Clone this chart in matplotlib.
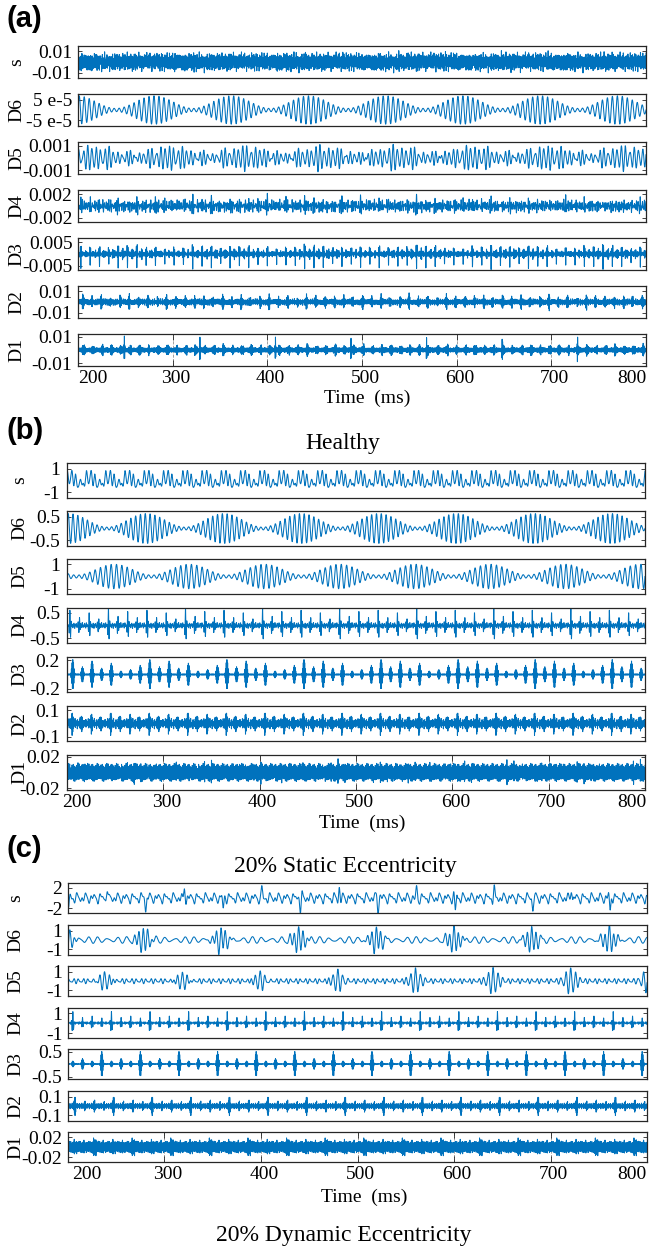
import numpy as np
import matplotlib.pyplot as plt
from matplotlib.transforms import ScaledTranslation

plt.rcParams['font.family'] = ['Liberation Serif', 'DejaVu Serif']

# rows of every panel, top to bottom
rows = ['s', 'D6', 'D5', 'D4', 'D3', 'D2', 'D1']
xticks = [200, 300, 400, 500, 600, 700, 800]
titles = ['Healthy', '20% Static Eccentricity', '20% Dynamic Eccentricity']
panel_tags = ['(a)', '(b)', '(c)']

# signal description (time in ms, freq in cycles/ms)
# tones: (freq, amplitude, phase)
# beat: (carrier, beat period, time of envelope minimum, max amp, min amp)
# bursts: (first time, period, heights, width, carrier)

# ---- (a) healthy
a_ylim = [0.0147, 7.9e-5, 0.0013, 0.0027, 0.0069, 0.015, 0.012]
a_ticklabels = [['-0.01', '0.01'], ['-5 e-5', '5 e-5'], ['-0.001', '0.001'], ['-0.002', '0.002'],
                ['-0.005', '0.005'], ['-0.01', '0.01'], ['-0.01', '0.01']]
a_tickvals = [0.01, 5e-5, 0.001, 0.002, 0.005, 0.01, 0.01]
a_tones = [
    [(0.83, 0.0025, 0.3), (1.21, 0.0022, 1.9), (1.67, 0.002, 0.8), (2.13, 0.0018, 2.6),
     (2.71, 0.0015, 1.2), (0.47, 0.0012, 0.5), (3.3, 0.0012, 2.2)],
    [],
    [(0.31, 0.0002, 0.7), (0.27, 0.00015, 2.0)],
    [(0.47, 0.0004, 0.4), (0.61, 0.00034, 1.7), (0.83, 0.00028, 2.9), (1.07, 0.0002, 1.1)],
    [(0.93, 0.0005, 0.2), (1.31, 0.0004, 1.4), (1.77, 0.0003, 2.5)],
    [(1.09, 0.001, 0.6), (1.57, 0.0009, 2.0), (2.03, 0.0008, 1.0), (2.61, 0.0006, 2.7)],
    [(2.27, 0.0006, 0.1), (3.07, 0.0005, 1.6), (3.71, 0.0005, 2.4), (4.33, 0.0004, 0.9)],
]
a_beats = [None, (0.19, 81.5, 240, 7.0e-5, 0.8e-5), (0.22, 80, 257, 0.0008, 0.0003),
           None, None, None, None]
a_bursts = [
    [(204, 9.85, [0.004, 0.0025, 0.0035, 0.002], 0.5, 1.1)],
    [], [],
    [(203, 9.85, [0.0012, 0.0006, 0.0009, 0.0005, 0.0014, 0.0007, 0.001, 0.0004], 1.0, 0.6)],
    [(203, 9.85, [-0.0058, -0.005, -0.0055, -0.0045], 0.6, 1.0), (208, 9.85, [0.0015], 1.5, 1.3)],
    [(205, 9.85, [0.006, 0.0045, 0.0055, 0.004, 0.005], 1.2, 1.4)],
    [(206, 9.85, [0.0035, 0.0025, 0.003], 1.5, 2.7), (249, 79.8, [0.0095], 0.4, 2.0)],
]

# ---- (b) 20% static eccentricity
b_ylim = [1.47, 0.75, 1.43, 0.69, 0.245, 0.13, 0.022]
b_ticklabels = [['-1', '1'], ['-0.5', '0.5'], ['-1', '1'], ['-0.5', '0.5'],
                ['-0.2', '0.2'], ['-0.1', '0.1'], ['-0.02', '0.02']]
b_tickvals = [1, 0.5, 1, 0.5, 0.2, 0.1, 0.02]
b_tones = [
    [(0.05, 0.3, 0.4), (0.15, 0.15, 1.2), (0.2, 0.35, 2.0), (0.25, 0.3, 0.3), (0.35, 0.12, 1.7)],
    [],
    [],
    [(0.45, 0.06, 0.5), (0.7, 0.05, 1.9), (0.95, 0.03, 0.8)],
    [(1.2, 0.008, 0.3)],
    [(1.1, 0.012, 0.2), (1.45, 0.011, 1.5), (1.9, 0.01, 2.4), (2.4, 0.008, 0.8)],
    [(2.3, 0.003, 0.4), (2.9, 0.0027, 1.1), (3.6, 0.0026, 2.2), (4.4, 0.0023, 0.6), (5.1, 0.002, 1.8)],
]
b_beats = [None, (0.2, 80.5, 242, 0.64, 0.06), (0.18, 78, 210, 1.0, 0.12),
           None, None, None, None]
b_bursts = [
    [], [], [],
    [(203, 10, [0.55, 0.3, 0.45, 0.25, 0.65, 0.35, 0.5, 0.3], 1.0, 0.7)],
    [(206, 10, [0.2, 0.1, 0.18, 0.08, 0.15, 0.04, 0.06, 0.12], 1.5, 1.4)],
    [(205, 10, [0.075, 0.055, 0.065, 0.05], 1.3, 1.6)],
    [(204, 7.3, [0.008, 0.005, 0.0065], 0.3, 3.0)],
]

# ---- (c) 20% dynamic eccentricity
c_ylim = [2.9, 1.65, 1.64, 1.5, 0.6, 0.16, 0.03]
c_ticklabels = [['-2', '2'], ['-1', '1'], ['-1', '1'], ['-1', '1'],
                ['-0.5', '0.5'], ['-0.1', '0.1'], ['-0.02', '0.02']]
c_tickvals = [2, 1, 1, 1, 0.5, 0.1, 0.02]
c_tones = [
    [(0.12, 0.6, 0.5), (0.21, 0.4, 1.8), (0.33, 0.25, 2.6)],
    [(0.1, 0.25, 0.9), (0.13, 0.12, 2.3)],
    [(0.2, 0.2, 0.4), (0.3, 0.1, 1.6)],
    [(0.6, 0.08, 1.0), (0.85, 0.05, 2.2)],
    [(1.3, 0.01, 0.2)],
    [(1.2, 0.012, 0.7), (1.6, 0.01, 2.1), (2.1, 0.009, 1.3)],
    [(2.2, 0.004, 0.3), (2.8, 0.0035, 1.4), (3.5, 0.003, 2.5), (4.2, 0.003, 0.8)],
]
c_beats = [None] * 7
c_bursts = [
    [(240.5, 40.1, [2.0, -2.5], 1.6, 0.2)],
    [(278, 80.5, [1.35], 8, 0.22)],
    [(238, 80.5, [1.25], 7, 0.2)],
    [(205, 10, [1.1, 0.45, 0.65, 0.4], 1.0, 0.7)],
    [(235, 10, [0.5, 0.12, 0.22, 0.12], 1.3, 1.4)],
    [(207, 10, [0.1, 0.045, 0.06, 0.04], 1.1, 1.6)],
    [(228, 10, [0.014, 0.006, 0.009, 0.006], 2.0, 2.6)],
]


def trace(t, tones, beat, bursts):
    y = np.zeros_like(t)
    for f, a, ph in tones:
        y += a * np.sin(2 * np.pi * f * t + ph)
    if beat is not None:
        fc, tb, tmin, amax, amin = beat
        env = 0.5 * (amax + amin) - 0.5 * (amax - amin) * np.cos(2 * np.pi * (t - tmin) / tb)
        y += env * np.sin(2 * np.pi * fc * t)
    for t0, per, heights, w, fb in bursts:
        n0 = int(np.floor((t[0] - t0) / per)) - 1
        n1 = int(np.ceil((t[-1] - t0) / per)) + 1
        for j in range(n0, n1 + 1):
            tj = t0 + j * per
            y += heights[j % len(heights)] * np.exp(-((t - tj) / w) ** 2) * np.cos(2 * np.pi * fb * (t - tj))
    return y


W, H = 651, 1251
fig = plt.figure(figsize=(W / 100, H / 100), dpi=100)

# layout in pixels
lefts = [78, 67, 68]
rights = [646, 645, 647]
tops = [[46, 94, 142, 190, 238, 286, 334],
        [463, 511, 559, 608, 657, 706, 755],
        [883, 925, 966, 1008, 1049, 1091, 1132]]
heights_px = [32, 35, 30]
ylab_x = [17, 20, 16]
ypad = [4, 5, 4]
first_shift = [12, 7, 16]
last_shift = [-14, -13, -15]
tag_base = [27, 439, 857]
title_base = [449, 872, 1241]
title_x = [343, 345, 344]
time_base = [403, 828, 1202]
time_x = [367, 362, 364]

panels = [
    (a_ylim, a_tickvals, a_ticklabels, a_tones, a_beats, a_bursts),
    (b_ylim, b_tickvals, b_ticklabels, b_tones, b_beats, b_bursts),
    (c_ylim, c_tickvals, c_ticklabels, c_tones, c_beats, c_bursts),
]

t = np.arange(200, 800.0001, 0.025)
line_color = '#0072BD'
frame = '#262626'

for p, (ylims, tickvals, ticklabels, tones, beats, bursts) in enumerate(panels):
    left, right, h = lefts[p], rights[p], heights_px[p]
    for r, name in enumerate(rows):
        top = tops[p][r]
        ax = fig.add_axes([left / W, 1 - (top + h) / H, (right - left) / W, h / H])
        y = trace(t, tones[r], beats[r], bursts[r])
        ax.plot(t, y, color=line_color, lw=0.75)
        ax.set_xlim(200, 800)
        ax.set_ylim(-ylims[r], ylims[r])
        ax.set_yticks([-tickvals[r], tickvals[r]])
        ax.set_yticklabels(ticklabels[r])
        ax.tick_params(axis='y', direction='in', left=True, right=True, length=3,
                       width=0.6, labelsize=14, pad=ypad[p], color=frame)
        for sp in ax.spines.values():
            sp.set_color(frame)
            sp.set_linewidth(0.9)
        if name == 'D1':
            ax.set_xticks(xticks)
            ax.set_xticklabels([str(v) for v in xticks])
            ax.tick_params(axis='x', direction='in', top=True, bottom=True, length=4,
                           width=0.6, labelsize=14, pad=3, color=frame)
            ax.grid(axis='x', color=frame, ls='--', lw=0.6, alpha=0.5)
            labs = ax.get_xticklabels()
            for k, lab in enumerate(labs):
                dx = 3
                if k == 0:
                    dx += first_shift[p]
                elif k == len(labs) - 1:
                    dx = last_shift[p]
                lab.set_transform(lab.get_transform() + ScaledTranslation(dx / 100, 0, fig.dpi_scale_trans))
        else:
            ax.set_xticks([])
        fig.text(ylab_x[p] / W, 1 - (top + h / 2) / H, name, rotation=90,
                 ha='center', va='center', fontsize=14)

    fig.text(6 / W, 1 - tag_base[p] / H, panel_tags[p], family='Liberation Sans',
             weight='bold', fontsize=21, ha='left', va='baseline')
    fig.text(title_x[p] / W, 1 - title_base[p] / H, titles[p], fontsize=17,
             ha='center', va='baseline')
    fig.text(time_x[p] / W, 1 - time_base[p] / H, 'Time  (ms)', fontsize=14,
             ha='center', va='baseline')

fig.savefig('out.png', dpi=100)
